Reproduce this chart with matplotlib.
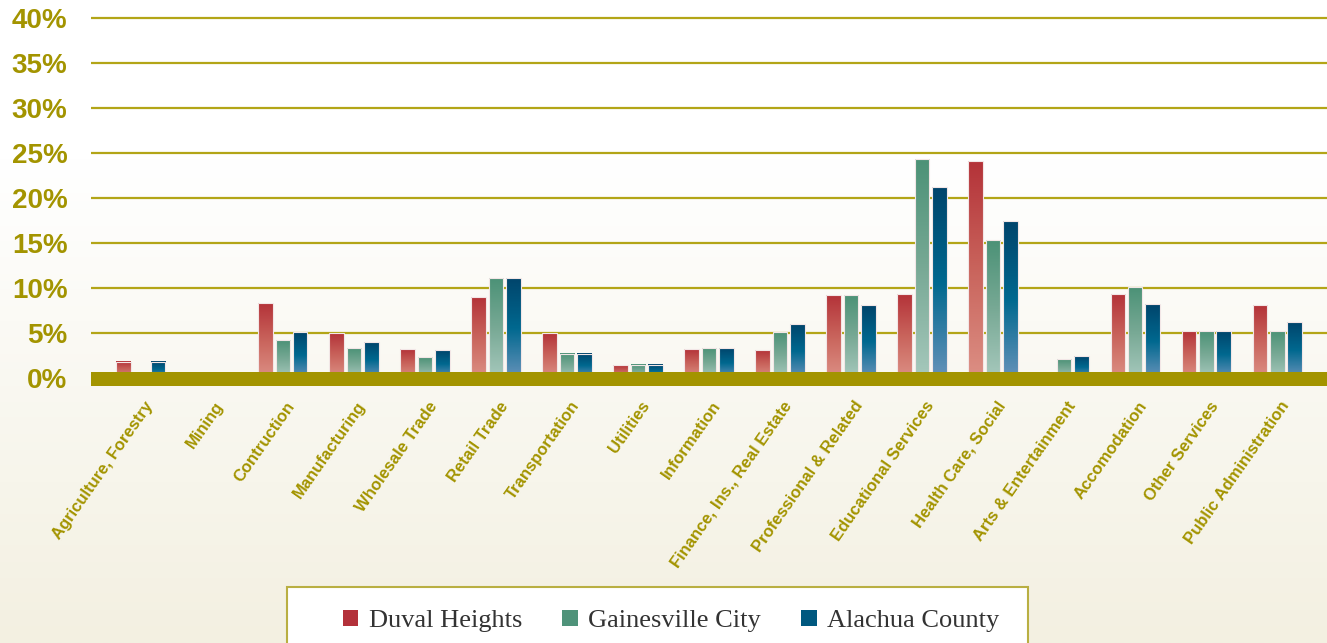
import numpy as np
import matplotlib.pyplot as plt
from matplotlib.colors import LinearSegmentedColormap
from matplotlib.patches import Rectangle, Patch
import matplotlib.transforms as mtransforms

# ---- data (percent of employment by industry) ----
industries = [
    "Agriculture, Forestry", "Mining", "Contruction", "Manufacturing",
    "Wholesale Trade", "Retail Trade", "Transportation", "Utilities",
    "Information", "Finance, Ins., Real Estate", "Professional & Related",
    "Educational Services", "Health Care, Social", "Arts & Entertainment",
    "Accomodation", "Other Services", "Public Administration",
]
duval_heights = [1.8, 0, 8.3, 5.0, 3.2, 9.0, 5.0, 1.4, 3.2, 3.1, 9.2, 9.3, 24.1, 0, 9.3, 5.2, 8.1]
gainesville_city = [0, 0, 4.2, 3.3, 2.3, 11.1, 2.7, 1.5, 3.3, 5.1, 9.2, 24.3, 15.3, 2.1, 10.1, 5.2, 5.2]
alachua_county = [1.8, 0, 5.1, 4.0, 3.1, 11.1, 2.7, 1.5, 3.3, 6.0, 8.1, 21.2, 17.4, 2.4, 8.2, 5.2, 6.2]
series_names = ["Duval Heights", "Gainesville City", "Alachua County"]
y_ticks = [0, 5, 10, 15, 20, 25, 30, 35, 40]

# ---- style ----
OLIVE = "#A39400"
GRID = "#B3A517"
solid = ["#B3313A", "#4F937A", "#00587F"]
grads = [
    ["#B43339", "#C9645C", "#DC8F84"],
    ["#4C9277", "#78A995", "#A6C8BC"],
    ["#00456C", "#00688F", "#6592B9"],
]

fig = plt.figure(figsize=(13.27, 6.43), dpi=100)

# background gradient (white top -> cream bottom)
bg = fig.add_axes([0, 0, 1, 1], zorder=-10)
bg.axis("off")
t = np.linspace(0, 1, 256)
shade = np.clip((t - 0.25) / 0.75, 0, 1)[:, None]
top = np.array([1.0, 1.0, 1.0])
bot = np.array([0xF3, 0xF0, 0xE1]) / 255
img = top * (1 - shade[..., None]) + bot * shade[..., None]
bg.imshow(img, aspect="auto", extent=(0, 1, 0, 1), origin="upper")
bg.set_xlim(0, 1)
bg.set_ylim(0, 1)

ax = fig.add_axes([91 / 1327, (643 - 387) / 643, 1 - 91 / 1327, 378 / 643])
ax.patch.set_alpha(0)

x = np.arange(len(industries))
width = 0.205
offsets = [-0.245, 0, 0.245]
all_series = [duval_heights, gainesville_city, alachua_county]

for vals, off, g in zip(all_series, offsets, grads):
    cmap = LinearSegmentedColormap.from_list("g", g[::-1])
    bars = ax.bar(x + off, vals, width, color="none", edgecolor="#F2E6E6",
                  linewidth=0.8, zorder=3)
    for b in bars:
        h = b.get_height()
        if h <= 0:
            continue
        x0 = b.get_x()
        ax.imshow(np.linspace(0, 1, 100)[:, None], cmap=cmap, aspect="auto",
                  extent=(x0, x0 + b.get_width(), 0, h), origin="lower",
                  zorder=2)

for yv in y_ticks[1:]:
    ax.axhline(yv, color=GRID, linewidth=1.6, zorder=1)
ax.axhspan(-0.9, 0.67, color=OLIVE, zorder=4, linewidth=0)

ax.set_xlim(-0.7, len(industries) - 0.3)
ax.set_ylim(-1, 41)
ax.set_yticks(y_ticks)
ax.set_yticklabels([f"{v}%" for v in y_ticks], fontsize=20, fontweight="bold",
                   color=OLIVE, family="Liberation Sans")
ax.tick_params(axis="y", length=0, pad=17)

# category labels, rotated, drawn as text under each group
ax.set_xticks([])
shift = mtransforms.ScaledTranslation(9 / 100, -16 / 100, fig.dpi_scale_trans)
lab_tr = ax.get_xaxis_transform() + shift
for xi, name in zip(x, industries):
    ax.text(xi, 0, name, transform=lab_tr, rotation=55, ha="right", va="center",
            rotation_mode="anchor", fontsize=12, fontweight="bold",
            color=OLIVE, family="Liberation Sans", clip_on=False)
for s in ax.spines.values():
    s.set_visible(False)

# legend box
fig.patches.append(Rectangle((287 / 1327, -0.05), (1028 - 287) / 1327, (643 - 587) / 643 + 0.05,
                             transform=fig.transFigure, facecolor="white",
                             edgecolor="#B9AF42", linewidth=1.5, zorder=1))
handles = [Patch(facecolor=c, edgecolor="none") for c in solid]
leg = fig.legend(handles, series_names, loc="center", ncol=3,
                 bbox_to_anchor=(671 / 1327, (643 - 621) / 643), frameon=False,
                 prop={"family": "Liberation Serif", "size": 19},
                 handlelength=0.6, handleheight=0.6, handletextpad=0.4,
                 columnspacing=1.5, labelcolor="#333333")
leg.set_zorder(5)

fig.savefig("out.png", dpi=100)
